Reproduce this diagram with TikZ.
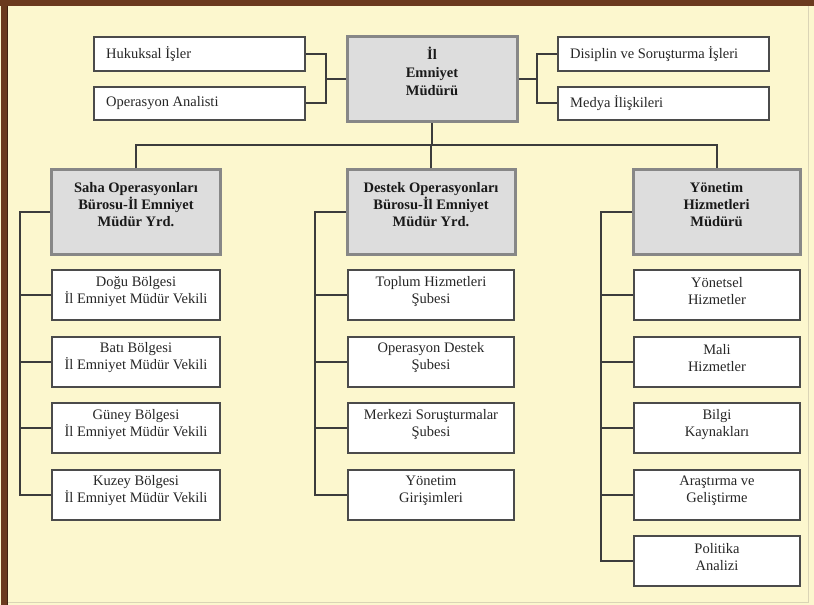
\documentclass[tikz,border=0pt]{standalone}
\usepackage{fontspec}
\setmainfont{Liberation Serif}
\definecolor{bgcream}{RGB}{252,247,206}
\definecolor{brownband}{RGB}{107,58,30}
\definecolor{framelight}{RGB}{218,212,182}
\definecolor{fillgray}{RGB}{221,221,221}
\definecolor{boxgray}{RGB}{135,135,135}
\definecolor{edgegray}{RGB}{75,75,75}
\definecolor{linegray}{RGB}{60,60,60}
\newcommand\rfont{\fontsize{14.5bp}{17bp}\selectfont}
\newcommand\bfont{\fontsize{14.5bp}{17bp}\selectfont\bfseries}
\newcommand\bigbfont{\fontsize{14.5bp}{18bp}\selectfont\bfseries}
\tikzset{
  graybox/.style={draw=boxgray, line width=3bp, fill=fillgray, inner sep=0pt},
  whitebox/.style={draw=edgegray, line width=2bp, fill=white, inner sep=0pt, minimum height=50bp},
  topwbox/.style={draw=edgegray, line width=2bp, fill=white, inner sep=0pt, minimum width=211bp},
  conn/.style={draw=linegray, line width=2bp},
  rtext/.style={font=\rfont, align=center, inner sep=0pt, text=black!85},
  btext/.style={font=\bfont, align=center, inner sep=0pt, text=black!90},
}
\newcommand\wbox[4]{%
  \node[whitebox, minimum width=#4] (#1) at (#2) {};
  \node[rtext] (#1t) at ([yshift=3.5bp]#1.center) {#3};}
\begin{document}
\begin{tikzpicture}[x=1bp, y=-1bp]
\useasboundingbox (0,0) rectangle (814,605);
% background and frame
\fill[bgcream] (0,0) rectangle (814,605);
\draw[framelight, line width=1bp] (808,6) -- (808,602) -- (7,602);
\fill[brownband] (1.5,0) rectangle (7,605);
\fill[brownband] (0,0) rectangle (814,6);
\draw[brownband!60!black, line width=0.6bp] (7,6) -- (7,605);

% top level
\node[graybox, minimum width=170bp, minimum height=85bp] (top) at (432,79.5) {};
\node[btext, font=\bigbfont] (topt) at ([yshift=8.5bp]top.center) {İl\\Emniyet\\Müdürü};

\node[topwbox, minimum height=34bp] (huk) at (199.5,54) {};
\node[rtext, anchor=west] (hukt) at ([xshift=13bp]huk.west) {Hukuksal İşler};
\node[topwbox, minimum height=33bp] (opa) at (199.5,103.5) {};
\node[rtext, anchor=west] (opat) at ([xshift=13bp]opa.west) {Operasyon Analisti};
\node[topwbox, minimum height=34bp] (dis) at (663.5,54) {};
\node[rtext, anchor=west] (dist) at ([xshift=13bp]dis.west) {Disiplin ve Soruşturma İşleri};
\node[topwbox, minimum height=33bp] (med) at (663.5,103.5) {};
\node[rtext, anchor=west] (medt) at ([xshift=13bp]med.west) {Medya İlişkileri};

% second level
\node[graybox, minimum width=168bp, minimum height=84bp] (saha) at (136,212) {};
\node[btext] (sahat) at ([yshift=7bp]saha.center) {Saha Operasyonları\\Bürosu-İl Emniyet\\Müdür Yrd.};
\node[graybox, minimum width=168bp, minimum height=84bp] (destek) at (431,212) {};
\node[btext] (destekt) at ([yshift=7bp]destek.center) {Destek Operasyonları\\Bürosu-İl Emniyet\\Müdür Yrd.};
\node[graybox, minimum width=167bp, minimum height=84bp] (yon) at (716.5,212) {};
\node[btext] (yont) at ([yshift=7bp]yon.center) {Yönetim\\Hizmetleri\\Müdürü};

% children
\wbox{dog}{136,295}{Doğu Bölgesi\\İl Emniyet Müdür Vekili}{168bp}
\wbox{bat}{136,361.5}{Batı Bölgesi\\İl Emniyet Müdür Vekili}{168bp}
\wbox{gun}{136,428}{Güney Bölgesi\\İl Emniyet Müdür Vekili}{168bp}
\wbox{kuz}{136,494.5}{Kuzey Bölgesi\\İl Emniyet Müdür Vekili}{168bp}

\wbox{top1}{431,295}{Toplum Hizmetleri\\Şubesi}{166bp}
\wbox{opd}{431,361.5}{Operasyon Destek\\Şubesi}{166bp}
\wbox{mrk}{431,428}{Merkezi Soruşturmalar\\Şubesi}{166bp}
\wbox{ygi}{431,494.5}{Yönetim\\Girişimleri}{166bp}

\wbox{yhz}{717,295}{Yönetsel\\Hizmetler}{166bp}
\wbox{mhz}{717,361.5}{Mali\\Hizmetler}{166bp}
\wbox{bil}{717,428}{Bilgi\\Kaynakları}{166bp}
\wbox{ars}{717,494.5}{Araştırma ve\\Geliştirme}{166bp}
\wbox{pol}{717,561}{Politika\\Analizi}{166bp}

% connector coordinates
\coordinate (lb) at (326,0);
\coordinate (rb) at (537,0);
\coordinate (bus) at (0,145);
\coordinate (sx) at (20,0);
\coordinate (dx) at (315,0);
\coordinate (yx) at (601,0);

% top brackets
\draw[conn] (huk.east) -- (huk.east -| lb) -- (opa.east -| lb) -- (opa.east);
\draw[conn] (top.west) -- (top.west -| lb);
\draw[conn] (dis.west) -- (dis.west -| rb) -- (med.west -| rb) -- (med.west);
\draw[conn] (top.east) -- (top.east -| rb);

% bus
\draw[conn] (top.south) -- (top.south |- bus);
\draw[conn] (saha.north) -- (saha.north |- bus) -- (yon.north |- bus) -- (yon.north);
\draw[conn] (destek.north) -- (destek.north |- bus);

% Saha column
\draw[conn] (saha.west) -- (saha.west -| sx) -- (kuz.west -| sx) -- (kuz.west);
\draw[conn] (dog.west -| sx) -- (dog.west);
\draw[conn] (bat.west -| sx) -- (bat.west);
\draw[conn] (gun.west -| sx) -- (gun.west);

% Destek column
\draw[conn] (destek.west) -- (destek.west -| dx) -- (ygi.west -| dx) -- (ygi.west);
\draw[conn] (top1.west -| dx) -- (top1.west);
\draw[conn] (opd.west -| dx) -- (opd.west);
\draw[conn] (mrk.west -| dx) -- (mrk.west);

% Yonetim column
\draw[conn] (yon.west) -- (yon.west -| yx) -- (pol.west -| yx) -- (pol.west);
\draw[conn] (yhz.west -| yx) -- (yhz.west);
\draw[conn] (mhz.west -| yx) -- (mhz.west);
\draw[conn] (bil.west -| yx) -- (bil.west);
\draw[conn] (ars.west -| yx) -- (ars.west);
\end{tikzpicture}
\end{document}
